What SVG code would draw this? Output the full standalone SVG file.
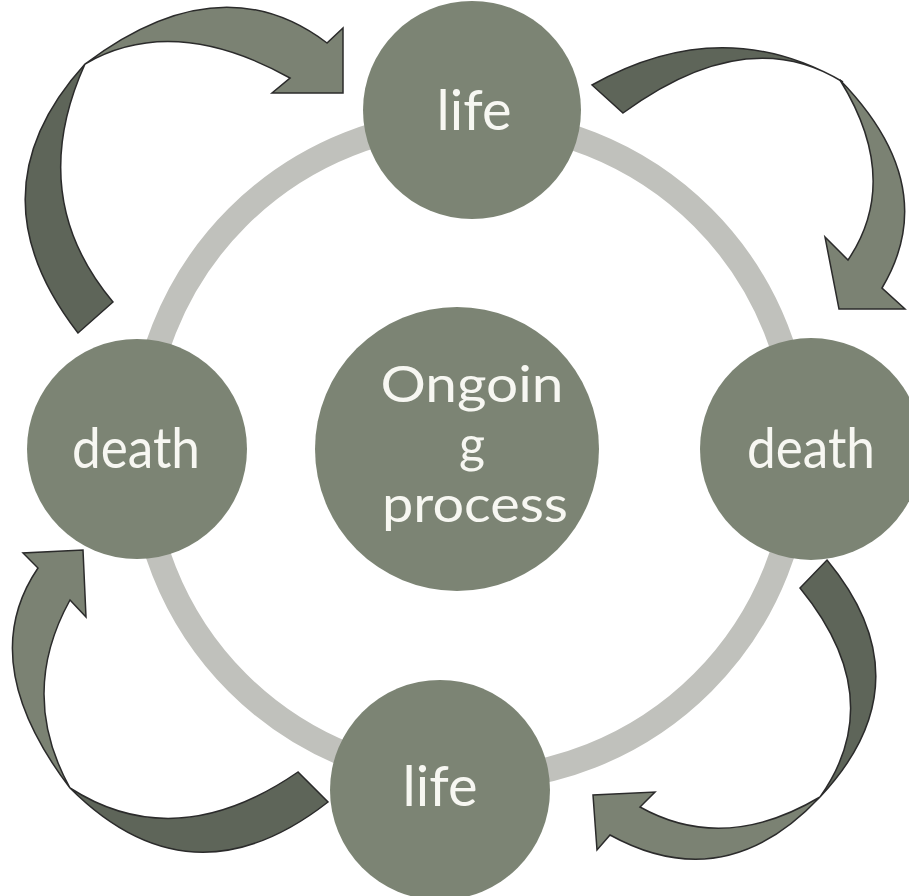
<svg xmlns="http://www.w3.org/2000/svg" width="909" height="896" viewBox="0 0 909 896">
<style>
.node{fill:#7c8474}
.lbl{font-family:Lato,"Liberation Sans",sans-serif;fill:#f7f7f2;text-anchor:middle}
.dark{fill:#5e6559;stroke:#2b2b2b;stroke-width:1.5;stroke-linejoin:miter}
.light{fill:#7b8273;stroke:#2b2b2b;stroke-width:1.5;stroke-linejoin:miter}
</style>
<rect width="909" height="896" fill="#ffffff"/>
<g id="ring">
<circle cx="470" cy="450" r="329" fill="none" stroke="#c0c1bc" stroke-width="25"/>
</g>
<g id="connectors">
<g id="arrow-1">
<path class="dark" d="M78,333 Q-31,192 85,64 Q25,197 113,302 Z"/>
<path class="light" d="M85,64 Q220,-38 327,43 L343,28 L343,93 L272,93 L290,78 Q173,13 85,64 Z"/>
</g>
<g id="arrow-2">
<path class="dark" d="M592,85 Q722,12 843,82 Q747,22 623,113 Z"/>
<path class="light" d="M840,80 Q943,186 882,288 L905,309 L839,309 L825,237 L848,260 Q902,180 840,80 Z"/>
</g>
<g id="arrow-3">
<path class="dark" d="M827,560 Q928,682 820,797 Q890,698 800,588 Z"/>
<path class="light" d="M820,797 Q725,898 610,835 L597,850 L593,795 L655,792 L640,807 Q724,854 820,797 Z"/>
</g>
<g id="arrow-4">
<path class="dark" d="M328,802 Q191,909 70,788 Q176,856 298,772 Z"/>
<path class="light" d="M70,788 Q-26,662 38,568 L23,553 L83,550 L86,617 L70,600 Q18,694 70,788 Z"/>
</g>
</g>
<g id="node-center">
<circle class="node" cx="457" cy="449" r="142"/>
<text class="lbl" font-size="50" x="472" y="402" textLength="183" lengthAdjust="spacingAndGlyphs">Ongoin</text>
<text class="lbl" font-size="50" x="472" y="462">g</text>
<text class="lbl" font-size="50" x="475" y="522" textLength="186" lengthAdjust="spacingAndGlyphs">process</text>
</g>
<g id="node-life-top">
<circle class="node" cx="472" cy="110" r="109"/>
<text class="lbl" font-size="56" x="474" y="130">life</text>
</g>
<g id="node-death-right">
<circle class="node" cx="811" cy="449" r="111"/>
<text class="lbl" font-size="56" x="811" y="468" textLength="128" lengthAdjust="spacingAndGlyphs">death</text>
</g>
<g id="node-death-left">
<circle class="node" cx="137" cy="449" r="110"/>
<text class="lbl" font-size="56" x="136" y="468" textLength="128" lengthAdjust="spacingAndGlyphs">death</text>
</g>
<g id="node-life-bottom">
<circle class="node" cx="440" cy="790" r="110"/>
<text class="lbl" font-size="56" x="440" y="806">life</text>
</g>
</svg>
